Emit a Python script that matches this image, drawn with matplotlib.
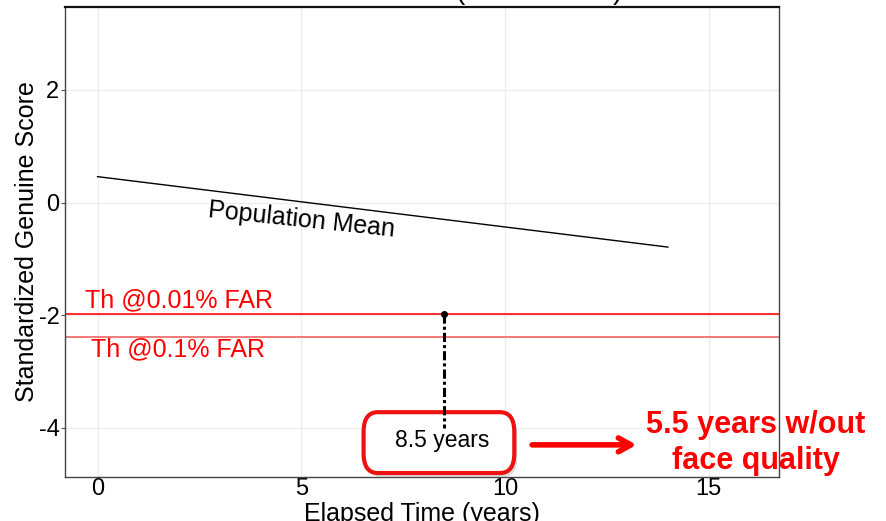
import matplotlib
matplotlib.use("Agg")
import matplotlib.pyplot as plt
from matplotlib.patches import FancyBboxPatch
import matplotlib.transforms as mtransforms

plt.rcParams['font.family'] = ['Liberation Sans', 'DejaVu Sans']
plt.rcParams['axes.unicode_minus'] = False

# data
mean_x = [0, 14]
mean_y = [0.46, -0.79]
threshold_y = [-1.98, -2.38]
threshold_labels = ["Th @0.01% FAR", "Th @0.1% FAR"]
threshold_colors = ["#ff1a1a", "#f27070"]
cross_x = 8.5
cross_y = [-1.98, -4.0]
x_ticks = [0, 5, 10, 15]
y_ticks = [-4, -2, 0, 2]

fig = plt.figure(figsize=(8.87, 5.21), dpi=100)
ax = fig.add_axes([0.0733, 0.0845, 0.805, 0.902])
ax.set_xlim(-0.8, 16.73)
ax.set_ylim(-4.87, 3.47)

ax.grid(True, color="#ececec", lw=0.9)
ax.set_axisbelow(True)
ax.set_xticks(x_ticks)
ax.set_yticks(y_ticks)
ax.tick_params(axis="both", labelsize=17, pad=1, colors="black")
ax.tick_params(axis="x", length=0)
ax.tick_params(axis="y", length=3, width=0.8, color="#555555")
for side in ["left", "right", "bottom"]:
    ax.spines[side].set_color("#444444")
    ax.spines[side].set_linewidth(1.0)
ax.spines["top"].set_linewidth(1.6)
ax.spines["top"].set_color("#111111")

# population mean
ax.plot(mean_x, mean_y, color="black", lw=1.0)
ax.text(5.0, -0.31, "Population Mean", fontsize=18, rotation=-6,
        ha="center", va="center")

# thresholds
for yv, col in zip(threshold_y, threshold_colors):
    ax.axhline(yv, color=col, lw=1.3)
ax.text(-0.32, -1.73, threshold_labels[0], color="red", fontsize=18,
        ha="left", va="center")
ax.text(-0.15, -2.61, threshold_labels[1], color="red", fontsize=18,
        ha="left", va="center")

# rounded box with shadow
shadow_off = mtransforms.offset_copy(ax.transData, fig=fig, x=3, y=-4, units="dots")
ax.add_patch(FancyBboxPatch((6.58, -4.75), 3.6, 0.98,
                            boxstyle="round,pad=0.05,rounding_size=0.35",
                            fc="#bbbbbb", ec="none", alpha=0.5,
                            transform=shadow_off, clip_on=False, zorder=4))
ax.add_patch(FancyBboxPatch((6.58, -4.75), 3.6, 0.98,
                            boxstyle="round,pad=0.05,rounding_size=0.35",
                            fc="white", ec="#ee1111", lw=3,
                            clip_on=False, zorder=5))
ax.text(8.45, -4.22, "8.5 years", fontsize=16.5, ha="center", va="center", zorder=6)

# crossing point (drawn over the box)
ax.plot([cross_x, cross_x], cross_y, color="black", lw=2.2,
        linestyle=(0, (3, 1, 1, 1)), zorder=7)
ax.plot([cross_x], [cross_y[0]], "o", color="black", ms=4, zorder=7)

# arrow and conclusion
ax.annotate("", xy=(13.3, -4.3), xytext=(10.6, -4.3),
            arrowprops=dict(arrowstyle="->,head_length=0.9,head_width=0.5",
                            color="red", lw=4),
            annotation_clip=False)
fig.text(756 / 887, 1 - 443 / 521, "5.5 years w/out\nface quality", color="red",
         fontsize=22, fontweight="bold", ha="center", va="center",
         linespacing=1.3)

ax.set_xlabel("Elapsed Time (years)", fontsize=18, labelpad=1)
ax.set_ylabel("Standardized Genuine Score", fontsize=18, labelpad=0)

# cut-off title remnants
fig.text(460 / 887, 1 - 5 / 521, "(", fontsize=20, ha="center", va="bottom")
fig.text(617 / 887, 1 - 5 / 521, ")", fontsize=20, ha="center", va="bottom")

fig.savefig("out.png", dpi=100)
